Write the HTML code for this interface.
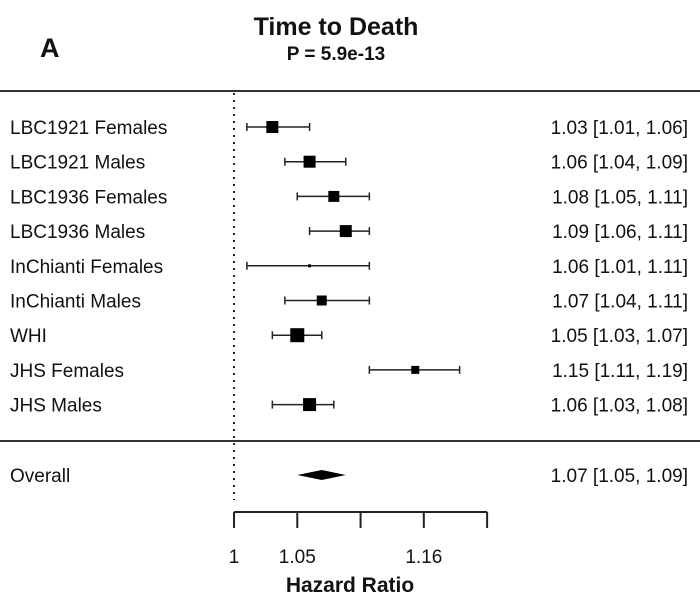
<!DOCTYPE html>
<html><head><meta charset="utf-8"><style>
body{margin:0;background:#fff}
svg text{font-family:"Liberation Sans",sans-serif;fill:#111}
</style></head><body>
<svg id="c" width="700" height="602">
<text x="40" y="57" font-size="27" font-weight="bold">A</text>
<text x="336" y="35" font-size="25" font-weight="bold" text-anchor="middle">Time to Death</text>
<text x="336" y="60" font-size="19" font-weight="bold" text-anchor="middle">P = 5.9e-13</text>
<line x1="0" y1="91" x2="700" y2="91" stroke="#333" stroke-width="2"/>
<line x1="0" y1="441" x2="700" y2="441" stroke="#333" stroke-width="2"/>
<line x1="234" y1="93" x2="234" y2="500" stroke="#222" stroke-width="2" stroke-dasharray="2,5"/>
<g id="rows"></g>
<g id="axis"></g>
<text x="350" y="592" font-size="21" font-weight="bold" text-anchor="middle">Hazard Ratio</text>
</svg>
<script>
const labels=["LBC1921 Females","LBC1921 Males","LBC1936 Females","LBC1936 Males","InChianti Females","InChianti Males","WHI","JHS Females","JHS Males"];
const hr=[1.03,1.06,1.08,1.09,1.06,1.07,1.05,1.15,1.06];
const lo=[1.01,1.04,1.05,1.06,1.01,1.04,1.03,1.11,1.03];
const hi=[1.06,1.09,1.11,1.11,1.11,1.11,1.07,1.19,1.08];
const boxSize=[12,12,11,12,3,10,14,8,13];
const overall=[1.07,1.05,1.09];
const tickVals=[1,1.05,1.1025,1.1576,1.2155];
const tickLabels=["1","1.05","","1.16",""];
const NS="http://www.w3.org/2000/svg";
const X=v=>234+1297*Math.log(v);
const Y=i=>127+34.7*i;
function mk(t,a,p){const e=document.createElementNS(NS,t);for(const k in a)e.setAttribute(k,a[k]);p.appendChild(e);return e;}
const rows=document.getElementById('rows');
labels.forEach((l,i)=>{
 const y=Y(i);
 let t=mk('text',{x:10,y:y+7,'font-size':19},rows);t.textContent=l;
 
 
 let ln=mk('line',{x1:X(lo[i]),x2:X(hi[i]),y1:y,y2:y,stroke:'#222','stroke-width':1.5},rows);
 
 
 [lo[i],hi[i]].forEach(v=>{const c=mk('line',{x1:X(v),x2:X(v),y1:y-4,y2:y+4,stroke:'#222','stroke-width':1.5},rows);
  
  });
 const s=boxSize[i];
 let b=mk('rect',{x:X(hr[i])-s/2,y:y-s/2,width:s,height:s,fill:'#000'},rows);
 
 
 let r=mk('text',{x:688,y:y+7,'font-size':19,'text-anchor':'end'},rows);
 r.textContent=hr[i].toFixed(2)+" ["+lo[i].toFixed(2)+", "+hi[i].toFixed(2)+"]";
 
 
});
const yo=475;
let ot=mk('text',{x:10,y:yo+7,'font-size':19},rows);ot.textContent="Overall";


let d=mk('polygon',{points:`${X(overall[1])},${yo} ${X(overall[0])},${yo-5} ${X(overall[2])},${yo} ${X(overall[0])},${yo+5}`,fill:'#000'},rows);


let orr=mk('text',{x:688,y:yo+7,'font-size':19,'text-anchor':'end'},rows);
orr.textContent=overall[0].toFixed(2)+" ["+overall[1].toFixed(2)+", "+overall[2].toFixed(2)+"]";


const ax=document.getElementById('axis');
let al=mk('line',{x1:X(tickVals[0]),x2:X(tickVals[tickVals.length-1]),y1:512,y2:512,stroke:'#222','stroke-width':2},ax);


tickVals.forEach((v,i)=>{
 const tk=mk('line',{x1:X(v),x2:X(v),y1:512,y2:528,stroke:'#222','stroke-width':2},ax);
 
 
 if(tickLabels[i]){const t=mk('text',{x:X(v),y:563,'font-size':19,'text-anchor':'middle'},ax);t.textContent=tickLabels[i];
  
  }
});
</script>
</body></html>
